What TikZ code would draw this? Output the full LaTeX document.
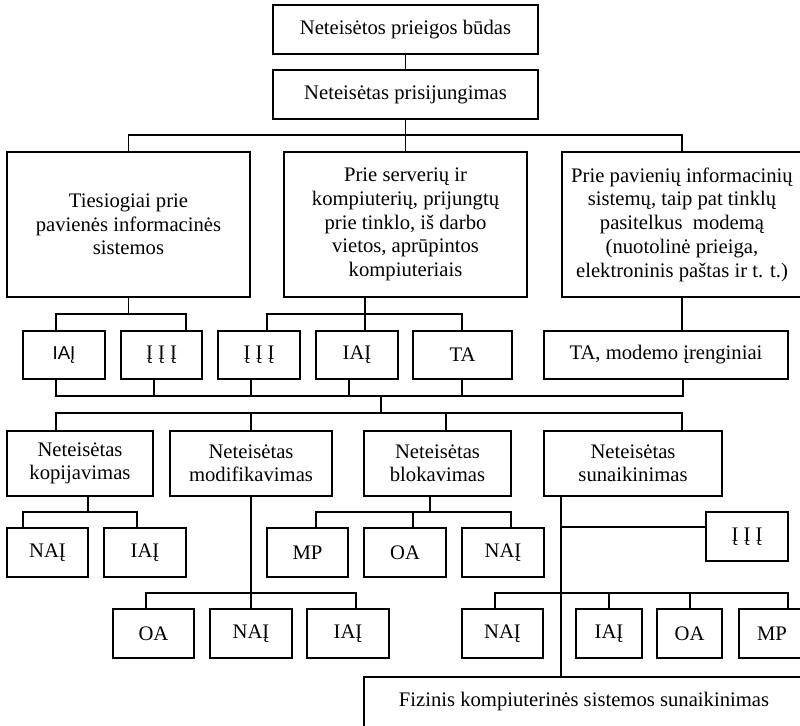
\documentclass[tikz,border=0pt]{standalone}
\usepackage{fontspec}
\setmainfont{Liberation Serif}
\newfontfamily\arialf{Liberation Sans}
\usetikzlibrary{calc}
\tikzset{
  bx/.style={draw, line width=1pt, inner sep=0pt, outer sep=0pt, align=center,
    font=\fontsize{15.5}{17}\selectfont},
  bigtxt/.style={font=\fontsize{15.5}{17.8}\selectfont},
  ln/.style={line width=1pt}
}
\newcommand\bx[7][]{\node[bx,#1, minimum width={(#5-#3)*0.75pt}, minimum height={(#6-#4)*0.75pt}] (#2) at ({(#3+#5)/2},{(#4+#6)/2}) {#7};}
\begin{document}
\begin{tikzpicture}[x=0.75pt,y=-0.75pt]
\useasboundingbox (0,0) rectangle (800,725);
\clip (0,0) rectangle (800,725);
% boxes
\bx{n0}{273}{5}{538}{54}{Neteisėtos prieigos būdas}
\bx{n1}{273}{70}{538}{119}{Neteisėtas prisijungimas}
\bx[bigtxt]{b1}{7}{152}{250}{297}{Tiesiogiai prie\\pavienės informacinės\\sistemos}
\bx[bigtxt]{b2}{284}{152}{527}{297}{Prie serverių ir\\kompiuterių, prijungtų\\prie tinklo, iš darbo\\vietos, aprūpintos\\kompiuteriais}
\bx[bigtxt]{b3}{562}{152}{802}{297}{Prie pavienių informacinių\\sistemų, taip pat tinklų\\pasitelkus\ \ modemą\\(nuotolinė prieiga,\\elektroninis paštas ir t. t.)}
\bx[font=\arialf\fontsize{14}{16}\selectfont]{s1}{23}{331}{105}{379}{IAĮ}
\bx{s2}{121}{331}{202}{379}{Į Į Į}
\bx{s3}{218}{331}{300}{379}{Į Į Į}
\bx{s4}{316}{331}{398}{379}{IAĮ}
\bx{s5}{413}{331}{512}{379}{TA}
\bx{s6}{544}{331}{788}{379}{TA, modemo įrenginiai}
\bx{c1}{7}{431}{153}{496}{Neteisėtas\\kopijavimas}
\bx{c2}{170}{431}{332}{496}{Neteisėtas\\modifikavimas}
\bx{c3}{364}{431}{511}{496}{Neteisėtas\\blokavimas}
\bx{c4}{544}{431}{722}{496}{Neteisėtas\\sunaikinimas}
\bx{d1}{7}{528}{88}{577}{NAĮ}
\bx{d2}{104}{528}{186}{577}{IAĮ}
\bx{f1}{267}{528}{348}{577}{MP}
\bx{f2}{364}{528}{446}{577}{OA}
\bx{f3}{462}{528}{544}{577}{NAĮ}
\bx{g0}{706}{512}{788}{561}{Į Į Į}
\bx{e1}{113}{609}{194}{658}{OA}
\bx{e2}{210}{609}{292}{658}{NAĮ}
\bx{e3}{307}{609}{389}{658}{IAĮ}
\bx{g1}{462}{609}{543}{658}{NAĮ}
\bx{g2}{576}{609}{642}{658}{IAĮ}
\bx{g3}{657}{609}{722}{658}{OA}
\bx{g4}{739}{609}{805}{658}{MP}
\bx{h}{364}{677}{804}{727}{Fizinis kompiuterinės sistemos sunaikinimas}
% level 1
\draw[ln] (n0) -- (n1);
\draw[ln] (n1) -- (b2);
\path (n1.south) ++(0,16) coordinate (j1);
\draw[ln] (b1.north) |- (j1) -| (b3.north);
% b1 children
\draw[ln] (b1.south) -- ++(0,17) coordinate (j2);
\draw[ln] ($(s1.north west)+(33,0)$) |- (j2) -| ($(s2.north west)+(65,0)$);
% b2 children
\path ($(b2.south west)+(81,0)$) coordinate (b2s);
\draw[ln] (b2s) -- (b2s |- s4.north);
\path (b2s) ++(0,17) coordinate (j3);
\draw[ln] ($(s3.north west)+(49,0)$) |- (j3) -| ($(s5.north west)+(49,0)$);
% b3 child
\draw[ln] (b3.south) -- (b3.south |- s6.north);
% collect bus
\coordinate (k1) at (381,396);
\coordinate (k2) at (381,413);
\path ($(s1.south west)+(33,0)$) coordinate (t1)
      ($(s2.south west)+(33,0)$) coordinate (t2)
      ($(s3.south west)+(33,0)$) coordinate (t3)
      ($(s4.south west)+(33,0)$) coordinate (t4)
      ($(s5.south west)+(49,0)$) coordinate (t5)
      ($(s6.south west)+(139,0)$) coordinate (t6);
\draw[ln] (t1) |- (k1) -| (t6);
\foreach \t in {t2,t3,t4,t5} \draw[ln] (\t) -- (\t |- k1);
\draw[ln] (k1) -- (k2);
\path ($(c1.north west)+(49,0)$) coordinate (u1)
      ($(c3.north west)+(82,0)$) coordinate (u3)
      ($(c4.north west)+(138,0)$) coordinate (u4);
\draw[ln] (u1) |- (k2) -| (u4);
\draw[ln] (c2.north) -- (c2.north |- k2);
\draw[ln] (u3) -- (u3 |- k2);
% c1 children
\draw[ln] ($(c1.south west)+(81,0)$) -- ++(0,16) coordinate (m1);
\draw[ln] ($(d1.north west)+(16,0)$) |- (m1) -| ($(d2.north west)+(33,0)$);
% c2 children
\draw[ln] (c2.south) -- (e2.north);
\path (e2.north) ++(0,-16) coordinate (m2);
\draw[ln] ($(e1.north west)+(33,0)$) |- (m2) -| ($(e3.north west)+(49,0)$);
% c3 children
\draw[ln] ($(c3.south west)+(66,0)$) -- ++(0,16) coordinate (m3);
\draw[ln] ($(f1.north west)+(49,0)$) |- (m3) -| ($(f3.north west)+(49,0)$);
\draw[ln] ($(f2.north west)+(49,0)$) -- ++(0,-16);
% c4 children
\path ($(c4.south west)+(17,0)$) coordinate (c4s);
\draw[ln] (c4s) -- (c4s |- h.north);
\path (c4s) ++(0,31) coordinate (m4);
\draw[ln] (m4) -- (m4 -| g0.west);
\path (c4s) ++(0,97) coordinate (m5);
\path ($(g1.north west)+(33,0)$) coordinate (v1)
      ($(g2.north west)+(33,0)$) coordinate (v2)
      ($(g3.north west)+(33,0)$) coordinate (v3)
      ($(g4.north west)+(49,0)$) coordinate (v4);
\draw[ln] (v1) |- (m5) -| (v4);
\draw[ln] (v2) -- (v2 |- m5);
\draw[ln] (v3) -- (v3 |- m5);
\end{tikzpicture}
\end{document}
